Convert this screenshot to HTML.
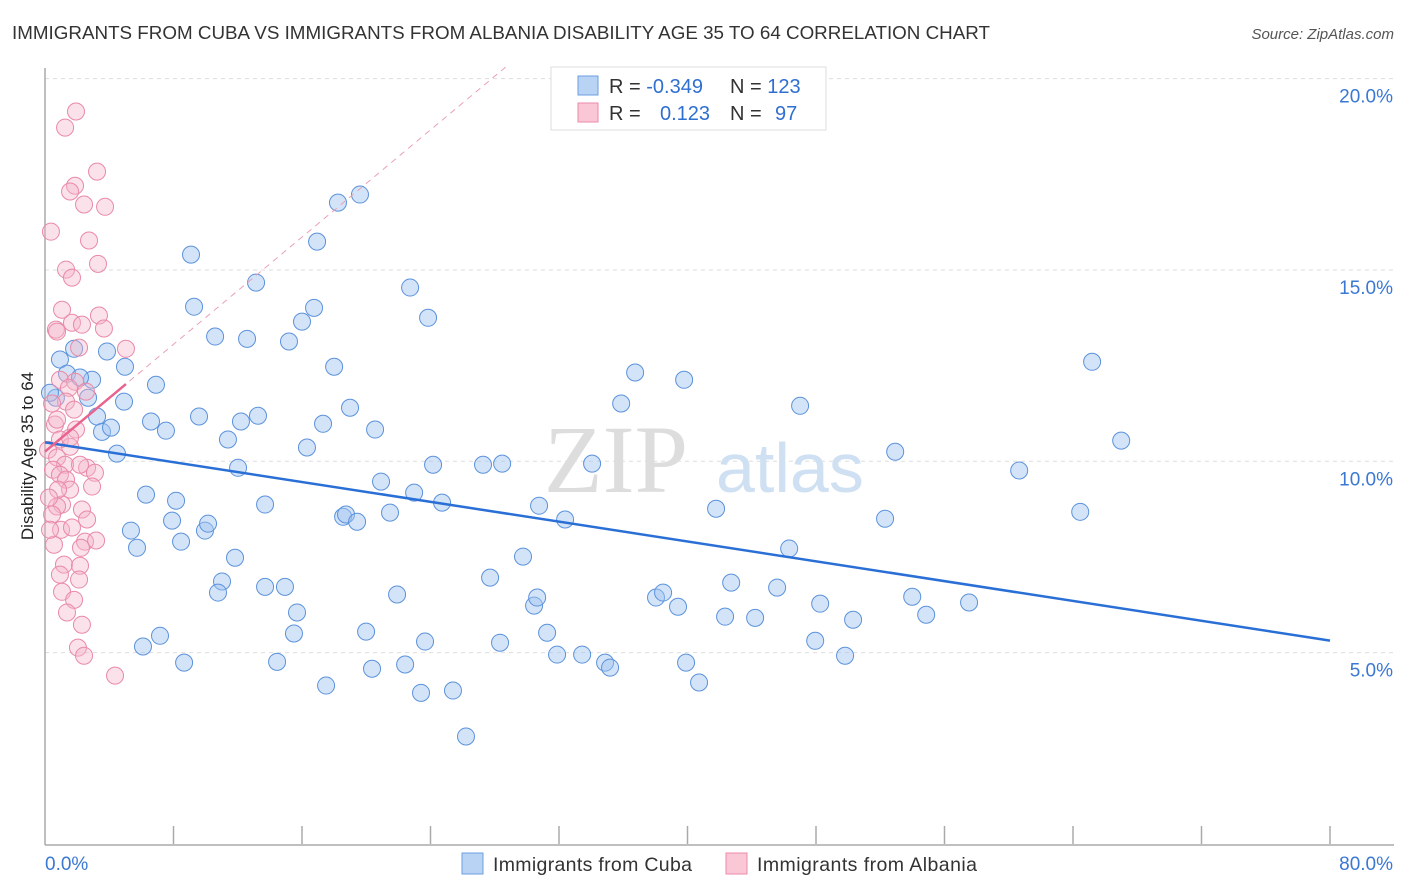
<!DOCTYPE html>
<html><head><meta charset="utf-8"><style>
body{margin:0;background:#fff;font-family:"Liberation Sans",sans-serif}
svg{display:block}
</style></head><body>
<svg id="c" width="1406" height="892" xmlns="http://www.w3.org/2000/svg">
<text x="12" y="39" font-size="18.5" fill="#333" textLength="978" lengthAdjust="spacingAndGlyphs">IMMIGRANTS FROM CUBA VS IMMIGRANTS FROM ALBANIA DISABILITY AGE 35 TO 64 CORRELATION CHART</text>
<text x="1394" y="39" font-size="15" fill="#555" font-style="italic" text-anchor="end">Source: ZipAtlas.com</text>
<g id="grid"></g>
<text x="688" y="492" font-size="96" font-family="Liberation Serif,serif" fill="#ddd" text-anchor="end">ZIP</text>
<text x="716" y="492" font-size="70" fill="#cfe0f2">atlas</text>
<g id="axes"></g>
<g id="pts"></g>
<g id="trend"></g>
<text transform="translate(33,456) rotate(-90)" font-size="17" fill="#222" text-anchor="middle">Disability Age 35 to 64</text>
<g>
<rect x="551" y="67" width="275" height="63" fill="#fff" stroke="#ddd"/>
<rect x="578" y="76" width="20" height="19" fill="#b8d3f4" stroke="#6d9fe0"/>
<rect x="578" y="103" width="20" height="19" fill="#f9c7d5" stroke="#ec8aa8"/>
<text x="609" y="93" font-size="20" fill="#333">R = <tspan fill="#2f6fd0">-0.349</tspan></text>
<text x="730" y="93" font-size="20" fill="#333">N = <tspan fill="#2f6fd0">123</tspan></text>
<text x="609" y="120" font-size="20" fill="#333">R = <tspan fill="#2f6fd0" x="660">0.123</tspan></text>
<text x="730" y="120" font-size="20" fill="#333">N = <tspan fill="#2f6fd0" x="775">97</tspan></text>
</g>
<g>
<rect x="462" y="853" width="21" height="21" fill="#b8d3f4" stroke="#6d9fe0"/>
<text x="493" y="871" font-size="19.5" fill="#333" textLength="199">Immigrants from Cuba</text>
<rect x="726" y="853" width="21" height="21" fill="#f9c7d5" stroke="#ec8aa8"/>
<text x="757" y="871" font-size="19.5" fill="#333" textLength="220">Immigrants from Albania</text>
</g>
</svg>
<script>
const yTicks=[5,10,15,20];
const yTickLabels=["5.0%","10.0%","15.0%","20.0%"];
const xTickLabels=["0.0%","80.0%"];
const cubaX=[9.09,9.28,10.59,12.58,13.14,15.19,16.0,16.75,16.94,18.24,19.61,22.73,23.85,18.0,18.99,17.31,20.55,16.31,13.26,12.2,11.39,12.02,9.59,7.53,6.6,6.91,4.98,3.86,1.81,0.93,1.37,2.93,2.18,2.68,0.68,0.31,3.24,3.55,4.11,4.48,4.92,6.29,8.16,7.91,5.35,5.73,8.47,9.96,10.15,11.83,11.02,10.77,13.7,13.7,14.94,15.69,15.5,14.45,8.66,7.16,6.1,17.5,18.56,18.74,19.43,20.36,19.99,21.48,20.92,21.92,22.42,22.98,23.41,23.66,24.72,25.4,26.21,24.16,27.27,28.46,27.71,28.33,29.76,30.45,30.64,31.26,30.76,32.38,31.88,33.44,34.87,35.18,34.06,35.87,36.74,39.79,38.04,38.48,39.41,39.91,40.72,41.78,42.34,42.72,44.21,45.58,46.33,47.01,47.95,48.26,49.81,50.31,52.3,52.93,53.99,54.86,57.53,60.65,64.45,65.19,67.0];
const cubaY=[15.4,14.04,13.26,13.2,14.67,13.13,13.65,14.01,15.74,16.76,16.97,14.54,13.75,12.47,11.4,10.98,10.83,10.36,11.19,11.04,10.57,9.83,11.17,10.8,11.04,12.0,12.47,12.87,12.94,12.66,12.29,12.13,12.19,11.66,11.66,11.79,11.17,10.77,10.88,10.2,11.56,9.13,8.97,8.45,8.19,7.74,7.9,8.19,8.37,7.48,6.86,6.57,8.87,6.72,6.72,6.05,5.5,4.76,4.74,5.44,5.16,4.14,8.55,8.61,8.42,4.58,5.55,8.66,9.47,6.52,4.69,9.18,3.95,5.29,8.92,4.01,2.81,9.91,9.91,9.94,6.96,5.26,7.51,6.23,6.44,5.52,8.84,8.48,4.95,4.95,4.74,4.61,9.94,11.51,12.32,12.13,6.44,6.57,6.2,4.74,4.22,8.76,5.94,6.83,5.91,6.7,7.72,11.45,5.31,6.28,4.92,5.86,8.5,10.25,6.46,5.99,6.31,9.76,8.68,12.6,10.54];
const albX=[1.93,1.25,3.24,1.87,1.56,2.43,3.74,0.37,2.74,1.31,3.3,1.68,1.06,3.36,0.68,1.68,2.3,3.67,5.04,2.12,0.75,0.93,1.87,1.49,2.55,1.31,0.44,1.81,0.62,0.93,0.19,1.56,0.75,1.25,2.62,3.11,2.18,0.5,0.93,1.31,2.93,1.56,1.06,0.75,0.44,2.3,2.62,1.0,1.68,2.49,3.18,0.56,2.24,1.18,2.18,0.93,2.12,1.06,1.81,1.37,2.3,2.05,2.43,4.36,0.31,0.81,0.25,1.93,1.56,0.75];
const albY=[19.14,18.72,17.57,17.2,17.05,16.71,16.65,16.0,15.77,15.01,15.16,14.8,13.96,13.81,13.44,13.62,13.57,13.47,12.94,12.97,13.39,12.13,12.08,11.92,11.82,11.56,11.51,11.35,10.96,10.57,10.3,10.38,10.1,9.91,9.83,9.7,9.91,9.78,9.65,9.52,9.34,9.26,8.87,8.82,8.61,8.74,8.48,8.21,8.27,7.9,7.93,7.82,7.74,7.3,7.27,7.04,6.91,6.59,6.38,6.05,5.73,5.13,4.92,4.4,8.21,9.26,9.05,10.83,10.62,11.09];
const X0=45,X1=1330,Y0=844,PPY=38.27;
const sx=v=>X0+v*(X1-X0)/80;
const sy=v=>Y0-v*PPY;
const NS="http://www.w3.org/2000/svg";
function mk(tag,attrs,parent){const e=document.createElementNS(NS,tag);for(const k in attrs)e.setAttribute(k,attrs[k]);document.getElementById(parent).appendChild(e);return e;}
yTicks.forEach((t,i)=>{
  const l=mk('line',{x1:X0,x2:1394,y1:sy(t),y2:sy(t),stroke:'#ddd','stroke-dasharray':'4,4'},'grid');
  
  
  const tx=mk('text',{x:1393,y:sy(t)+24,'font-size':19,fill:'#3a78d4','text-anchor':'end'},'grid');
  tx.textContent=yTickLabels[i];
  
  
});
mk('line',{x1:X0,x2:X0,y1:68,y2:Y0+1,stroke:'#aaa','stroke-width':1.5},'axes');
mk('line',{x1:X0,x2:1394,y1:Y0+1,y2:Y0+1,stroke:'#aaa','stroke-width':1.5},'axes');
for(let v=8;v<=80;v+=8){const t=mk('line',{x1:sx(v),x2:sx(v),y1:826,y2:Y0,stroke:'#aaa','stroke-width':1.5},'axes');}
const xl0=mk('text',{x:45,y:870,'font-size':19,fill:'#3a78d4'},'axes');xl0.textContent=xTickLabels[0];


const xl1=mk('text',{x:1393,y:870,'font-size':19,fill:'#3a78d4','text-anchor':'end'},'axes');xl1.textContent=xTickLabels[1];


cubaX.forEach((v,i)=>{const c=mk('circle',{cx:sx(v),cy:sy(cubaY[i]),r:8.5,fill:'rgba(160,196,240,0.45)',stroke:'#5b92dc','stroke-width':1},'pts');

});
albX.forEach((v,i)=>{const c=mk('circle',{cx:sx(v),cy:sy(albY[i]),r:8.5,fill:'rgba(246,180,200,0.4)',stroke:'#e98aa8','stroke-width':1},'pts');

});
function reg(xs,ys){const n=xs.length;let mx=0,my=0;for(let i=0;i<n;i++){mx+=xs[i];my+=ys[i];}mx/=n;my/=n;let a=0,b=0;for(let i=0;i<n;i++){a+=(xs[i]-mx)*(ys[i]-my);b+=(xs[i]-mx)**2;}const s=a/b;return [my-s*mx,s];}
const rc=reg(cubaX,cubaY);
const bl=mk('line',{x1:sx(0),y1:sy(rc[0]),x2:sx(80),y2:sy(rc[0]+rc[1]*80),stroke:'#2a6fd6','stroke-width':2.5},'trend');


const ra=reg(albX,albY);
const xEnd=Math.min(80,(20.3-ra[0])/ra[1]>0?(20.3-ra[0])/ra[1]:80);
const dl=mk('line',{x1:sx(0),y1:sy(ra[0]),x2:sx(xEnd),y2:sy(ra[0]+ra[1]*xEnd),stroke:'#eaa0b6','stroke-width':1,'stroke-dasharray':'6,5'},'trend');


const xm=Math.max(...albX);
const pl=mk('line',{x1:sx(0),y1:sy(ra[0]),x2:sx(xm),y2:sy(ra[0]+ra[1]*xm),stroke:'#e8638e','stroke-width':2.5},'trend');


</script>
</body></html>
